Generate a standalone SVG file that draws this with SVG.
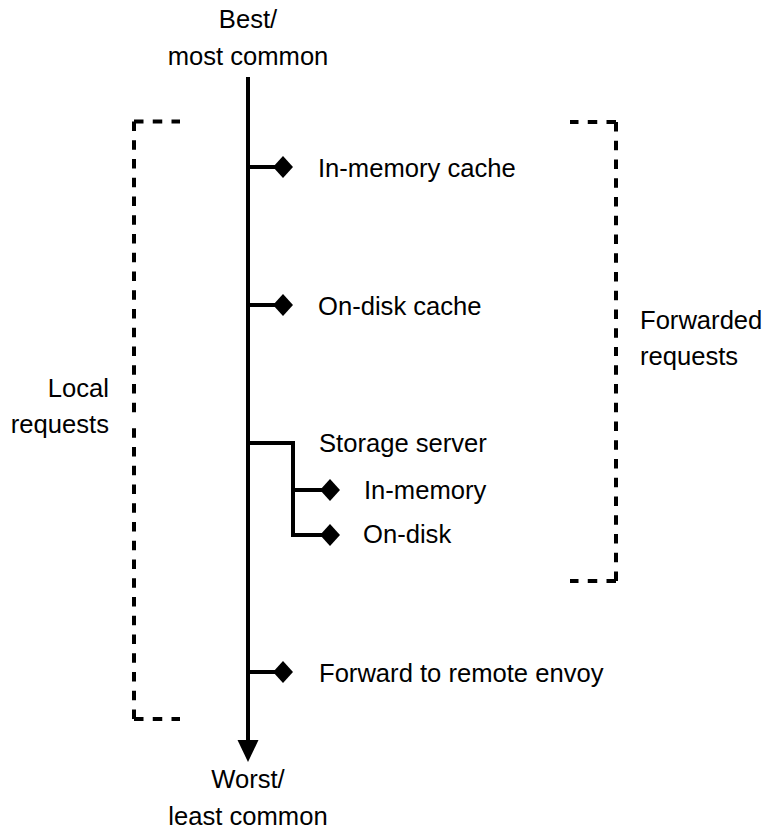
<svg xmlns="http://www.w3.org/2000/svg" width="764" height="830" viewBox="0 0 764 830">
<style>
text{font-family:"Liberation Sans",Arial,sans-serif;font-size:25.6px;fill:#000}
.ln{stroke:#000;stroke-width:4;fill:none}
.dash{stroke:#000;stroke-width:4;fill:none;stroke-dasharray:9.5 9.25}
.dia{fill:#000}
</style>
<defs>
<polygon id="dmd" points="0,-11 10,0 0,11 -10,0"/>
</defs>
<rect width="764" height="830" fill="#fff"/>
<g id="connectors">
<line class="ln" x1="248" y1="77" x2="248" y2="742"/>
<polygon points="237.5,740 258.5,740 248,762" fill="#000"/>
<line class="ln" x1="248" y1="167" x2="276" y2="167"/>
<line class="ln" x1="248" y1="305" x2="276" y2="305"/>
<polyline class="ln" points="248,443 293,443 293,535 322,535"/>
<line class="ln" x1="293" y1="490" x2="322" y2="490"/>
<line class="ln" x1="248" y1="672" x2="276" y2="672"/>
</g>
<g id="start">
<text x="248" y="28" text-anchor="middle">Best/</text>
<text x="248" y="65" text-anchor="middle">most common</text>
</g>
<g id="end">
<text x="248" y="788" text-anchor="middle">Worst/</text>
<text x="248" y="825" text-anchor="middle">least common</text>
</g>
<g id="in-memory-cache">
<use href="#dmd" x="283" y="167"/>
<text x="318" y="177">In-memory cache</text>
</g>
<g id="on-disk-cache">
<use href="#dmd" x="283" y="305"/>
<text x="318" y="315">On-disk cache</text>
</g>
<g id="storage-server">
<text x="319" y="452">Storage server</text>
</g>
<g id="storage-in-memory">
<use href="#dmd" x="330" y="490"/>
<text x="364" y="499">In-memory</text>
</g>
<g id="storage-on-disk">
<use href="#dmd" x="330" y="535"/>
<text x="363" y="543">On-disk</text>
</g>
<g id="forward-remote">
<use href="#dmd" x="283" y="672"/>
<text x="319" y="682">Forward to remote envoy</text>
</g>
<g id="local-requests">
<path class="dash" d="M134,121.5 H180"/>
<path class="dash" d="M134,121.5 V420"/>
<path class="dash" d="M134,719 V420"/>
<path class="dash" d="M134,719 H180"/>
<text x="109" y="397" text-anchor="end">Local</text>
<text x="109" y="433" text-anchor="end">requests</text>
</g>
<g id="forwarded-requests">
<path class="dash" d="M616,122 H570"/>
<path class="dash" d="M616,122 V350"/>
<path class="dash" d="M616,581 V350"/>
<path class="dash" d="M616,581 H570"/>
<text x="640" y="329">Forwarded</text>
<text x="640" y="365">requests</text>
</g>
</svg>
